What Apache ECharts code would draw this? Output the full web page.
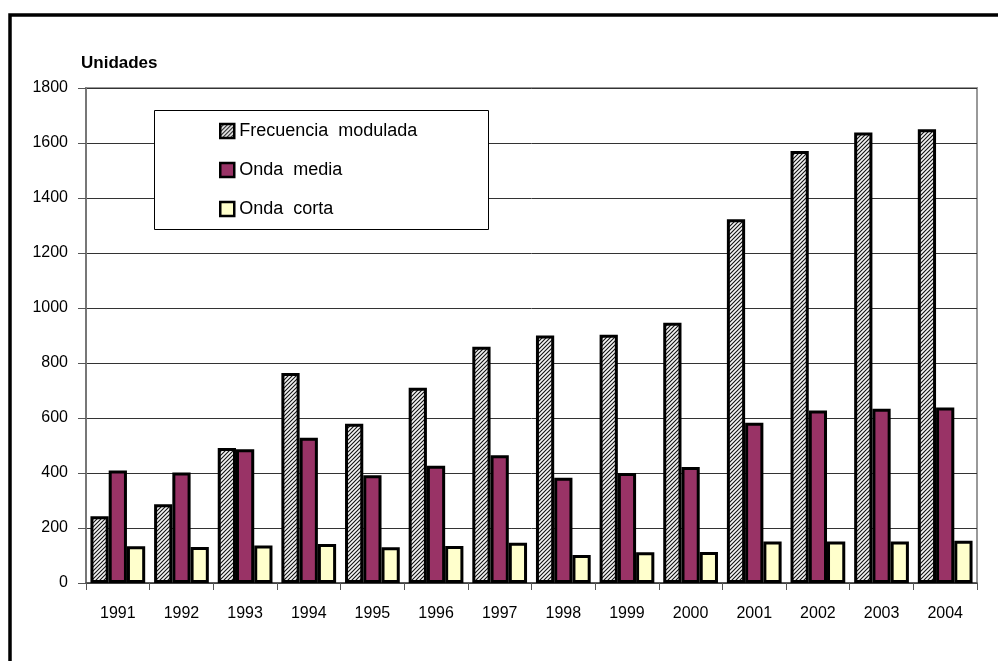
<!DOCTYPE html>
<html>
<head>
<meta charset="utf-8">
<script src="https://cdn.jsdelivr.net/npm/echarts@6/dist/echarts.min.js"></script>
<style>
  html, body { margin: 0; padding: 0; background: #fff; }
  #chart { width: 998px; height: 661px; }
</style>
</head>
<body>
<div id="chart"></div>
<script>
const years = ['1991', '1992', '1993', '1994', '1995', '1996', '1997', '1998', '1999', '2000', '2001', '2002', '2003', '2004'];
const frecuenciaModulada = [243, 286, 491, 764, 579, 710, 859, 900, 903, 946, 1323, 1571, 1638, 1650];
const ondaMedia = [409, 402, 486, 528, 392, 426, 465, 383, 400, 422, 583, 627, 634, 638];
const ondaCorta = [134, 131, 136, 142, 130, 135, 146, 102, 112, 113, 151, 151, 151, 154];
const seriesNames = ['Frecuencia  modulada', 'Onda  media', 'Onda  corta'];

const FONT = "'Liberation Sans', Arial, sans-serif";

// rayado diagonal para frecuencia modulada
function hatch() {
  const c = document.createElement('canvas');
  c.width = 4; c.height = 4;
  const ctx = c.getContext('2d');
  ctx.fillStyle = '#f4f4f4';
  ctx.fillRect(0, 0, 4, 4);
  ctx.strokeStyle = '#111';
  ctx.lineWidth = 1.1;
  ctx.beginPath();
  ctx.moveTo(-1, 5); ctx.lineTo(5, -1);
  ctx.moveTo(-1, 1); ctx.lineTo(1, -1);
  ctx.moveTo(3, 5); ctx.lineTo(5, 3);
  ctx.stroke();
  return c;
}

const chart = echarts.init(document.getElementById('chart'));
const barStyle = { borderColor: '#000', borderWidth: 3 };

chart.setOption({
  animation: false,
  title: {
    text: 'Unidades',
    left: 81,
    top: 55,
    padding: 0,
    textStyle: { fontFamily: FONT, fontSize: 17, fontWeight: 'bold', color: '#000' }
  },
  graphic: [
    {
      type: 'rect',
      z: 100,
      shape: { x: 10, y: 15, width: 1000, height: 700 },
      style: { fill: 'none', stroke: '#000', lineWidth: 3.5 }
    },
    {
      type: 'rect',
      z: 3,
      shape: { x: 154.5, y: 110.5, width: 334, height: 119 },
      style: { fill: '#fff', stroke: '#000', lineWidth: 1 }
    }
  ],
  legend: {
    orient: 'vertical',
    left: 219,
    top: 122,
    padding: 0,
    itemGap: 21,
    itemWidth: 14,
    itemHeight: 14,
    icon: 'rect',
    z: 10,
    data: seriesNames,
    itemStyle: { borderColor: '#000', borderWidth: 2.5 },
    textStyle: { fontFamily: FONT, fontSize: 18, color: '#000', lineHeight: 18 }
  },
  grid: {
    left: 86,
    right: 21,
    top: 88,
    bottom: 78,
    show: true,
    borderColor: '#999',
    borderWidth: 2
  },
  xAxis: {
    type: 'category',
    data: years,
    axisLine: { lineStyle: { color: '#444', width: 1.5 } },
    axisTick: { show: true, length: 7, interval: 0, lineStyle: { color: '#555' } },
    axisLabel: { margin: 23, interval: 0, fontFamily: FONT, fontSize: 16, color: '#000' }
  },
  yAxis: {
    type: 'value',
    min: 0,
    max: 1800,
    interval: 200,
    axisLine: { show: true, lineStyle: { color: '#777', width: 2 } },
    axisTick: { show: true, length: 8, lineStyle: { color: '#555' } },
    axisLabel: { margin: 18, fontFamily: FONT, fontSize: 16, color: '#000', formatter: v => String(v) },
    splitLine: { lineStyle: { color: '#333', width: 1 } }
  },
  series: [
    {
      name: seriesNames[0],
      type: 'bar',
      data: frecuenciaModulada,
      barGap: '0%',
      barCategoryGap: '14%',
      itemStyle: Object.assign({ color: { image: hatch(), repeat: 'repeat' } }, barStyle)
    },
    {
      name: seriesNames[1],
      type: 'bar',
      data: ondaMedia,
      itemStyle: Object.assign({ color: '#993366' }, barStyle)
    },
    {
      name: seriesNames[2],
      type: 'bar',
      data: ondaCorta,
      itemStyle: Object.assign({ color: '#ffffcc' }, barStyle)
    }
  ]
});
</script>
</body>
</html>
